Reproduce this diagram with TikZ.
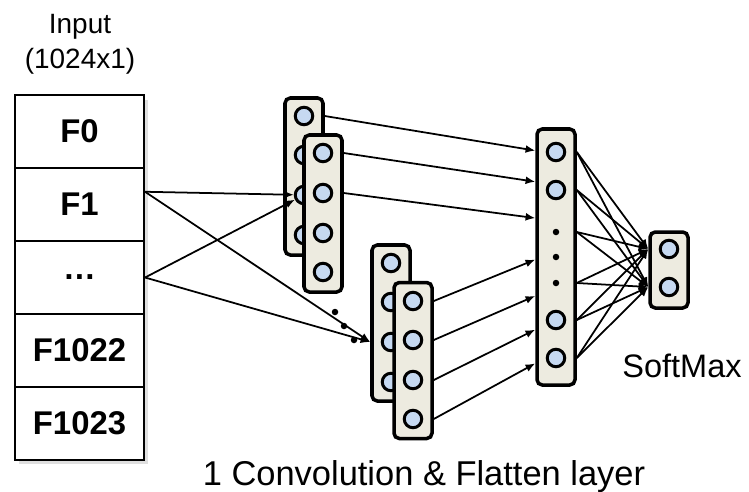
\documentclass[tikz,border=0pt]{standalone}
\usepackage{fontspec}
\setmainfont{Liberation Sans}
\usetikzlibrary{shadows}
\usetikzlibrary{arrows,arrows.meta,shapes}
\usetikzlibrary{calc}
\definecolor{layerbg}{RGB}{237,235,224}
\definecolor{unitbg}{RGB}{198,217,241}
\tikzstyle{layer}=[rectangle,draw,line width=2pt,rounded corners=3pt,fill=layerbg,minimum width=7.6mm,inner sep=0pt]
\tikzstyle{unit}=[circle,draw,line width=1.7pt,fill=unitbg,minimum size=3.5mm,inner sep=0pt]
\tikzstyle{smalldot}=[circle,fill=black,minimum size=1.3mm,inner sep=0pt]
\tikzstyle{cell}=[rectangle,draw,line width=1.2pt,minimum width=25.8mm,minimum height=14.6mm,inner sep=0pt,font=\fontsize{18.7}{20}\selectfont\bfseries]
\tikzstyle{edge}=[draw,line width=1pt,-{Latex[length=5.5pt,width=4.5pt]}]
\tikzstyle{caption}=[font=\fontsize{19.6}{22}\selectfont,anchor=base]

\begin{document}
\begin{tikzpicture}[x=0.2mm,y=-0.2mm]
    \useasboundingbox (0,0) rectangle (749,491);

    % input vector
    \draw[fill=white,drop shadow={shadow xshift=0.8mm,shadow yshift=-0.8mm,opacity=0.25}] (15,95.5) rectangle (144,459.5);
    \foreach \pos/ \name / \label in {{(79.5,131.5)/F0/F0},{(79.5,204.5)/F1/F1},{(79.5,277.5)/Fd/\dots},
                                      {(79.5,350.5)/F1022/F1022},{(79.5,423.5)/F1023/F1023}}
        \node[cell] (\name) at \pos {\label};
    \node[caption,font=\fontsize{15.9}{18}\selectfont] (intitle) at (80,33) {Input};
    \node[caption,font=\fontsize{15.9}{18}\selectfont] (insize) at (80,68) {(1024x1)};

    % first convolution, two filters
    \node[layer,minimum height=31.4mm] (c1back) at (304,176.5) {};
    \foreach \y [count=\i] in {116,155,195,235}
        \node[unit] (c1back\i) at (304,\y) {};
    \node[layer,minimum height=31.4mm] (c1front) at (323,213.5) {};
    \foreach \y [count=\i] in {153,193,233,272}
        \node[unit] (c1front\i) at (323,\y) {};

    % second convolution
    \node[layer,minimum height=31.2mm] (c2back) at (391,323) {};
    \foreach \y [count=\i] in {263,302,342,382}
        \node[unit] (c2back\i) at (391,\y) {};
    \node[layer,minimum height=31.2mm] (c2front) at (413,360.5) {};
    \foreach \y [count=\i] in {301,340,380,419}
        \node[unit] (c2front\i) at (413,\y) {};
    \foreach \pos/ \name in {{(335,312)/q1},{(344,326)/q2},{(354,340)/q3}}
        \node[smalldot] (\name) at \pos {};

    % flatten layer
    \node[layer,minimum height=51.2mm] (flat) at (556,257) {};
    \foreach \y/ \name in {152/f1,190/f2,320/f3,358/f4}
        \node[unit] (\name) at (556,\y) {};
    \foreach \y/ \name in {232/g1,257/g2,283/g3}
        \node[smalldot] (\name) at (556,\y) {};

    % softmax output
    \node[layer,minimum height=15.2mm] (soft) at (669,270) {};
    \foreach \y/ \name in {249/s1,287/s2}
        \node[unit] (\name) at (669,\y) {};

    % Connect layers
    \foreach \source/ \dest in {F1.11/c1back3,F1.11/c2back3 -| c2back.west,
                                Fd.east/c1back3,Fd.east/c2back3 -| c2back.west}
        \draw[edge] (\source) -- (\dest);
    \foreach \source/ \f in {c1back1 -| c1back.east/0.09,c1front1 -| c1front.east/0.21,
                             c1front2 -| c1front.east/0.35,c2front1 -| c2front.east/0.51,
                             c2front2 -| c2front.east/0.65,c2front3 -| c2front.east/0.78,
                             c2front4 -| c2front.east/0.91}
        \draw[edge] (\source) -- ($(flat.north west)!\f!(flat.south west)$);
    \foreach \source in {f1,f2,g1,g3,f3,f4}
        \foreach \dest in {s1,s2}
            \draw[edge] (\source -| flat.east) -- (\dest -| soft.west);

    \node[caption] (convtitle) at (424,485) {1 Convolution \& Flatten layer};
    \node[caption,font=\fontsize{18.5}{20}\selectfont] (softtitle) at (682,377) {SoftMax};
\end{tikzpicture}
\end{document}
